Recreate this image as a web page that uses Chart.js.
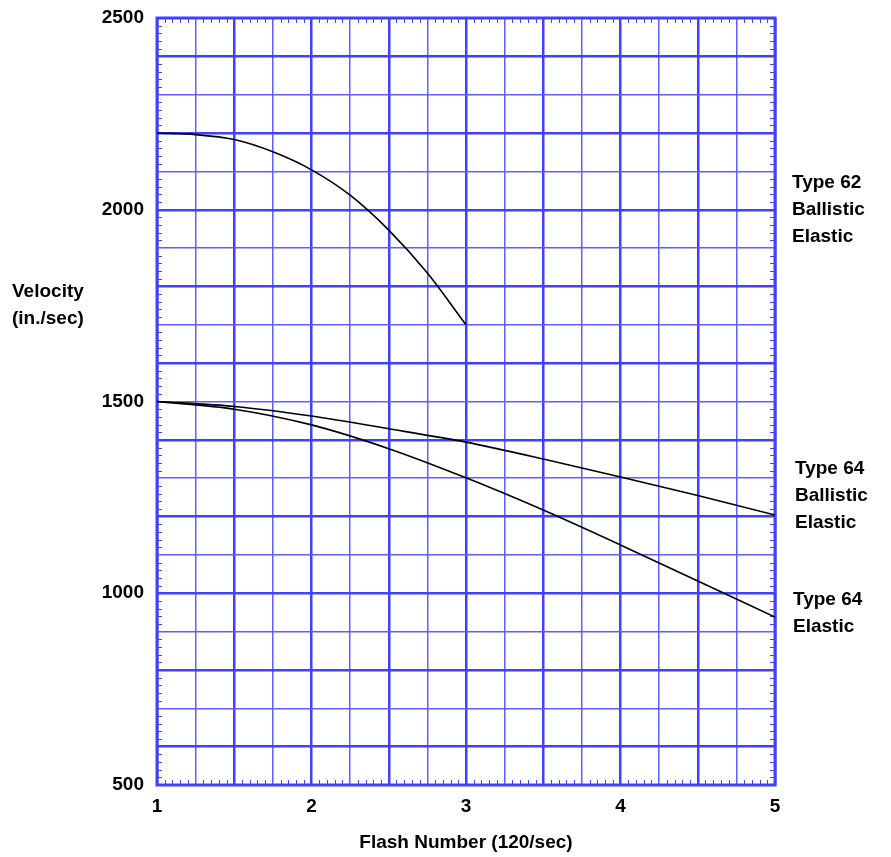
<!DOCTYPE html>
<html>
<head>
<meta charset="utf-8">
<script src="https://cdn.jsdelivr.net/npm/chart.js@4"></script>
<style>
  html, body { margin: 0; padding: 0; background: #fff; }
  canvas { display: block; }
</style>
</head>
<body>
<canvas id="chart" width="891" height="857"></canvas>
<script>
// flash number positions for each curve
var flash62 = [1, 1.25, 1.5, 1.75, 2, 2.25, 2.5, 2.75, 3];
var flash64 = [1, 1.5, 2, 2.5, 3, 3.5, 4, 4.5, 5];

// velocities (in./sec)
var type62Ballistic = [2200, 2196, 2183, 2151, 2104, 2038, 1947, 1835, 1700];
var type64Ballistic = [1500, 1487, 1462, 1429, 1394, 1350, 1303, 1255, 1204];
var type64Elastic   = [1500, 1480, 1439, 1377, 1301, 1217, 1126, 1032, 938];

// right side labels and the velocity they sit beside
var curveLabels = [["Type 62", "Ballistic", "Elastic"], ["Type 64", "Ballistic", "Elastic"], ["Type 64", "Elastic"]];
var labelValues = [2000, 1255, 948];
var labelX = [792, 795, 793];

var xTickLabels = [1, 2, 3, 4, 5];
var yTickLabels = [500, 1000, 1500, 2000, 2500];

var BLUE = "rgb(64,64,255)";
var FONT = "bold 19px 'Liberation Sans', Arial, sans-serif";

function toPoints(xs, ys) {
  var pts = [];
  for (var i = 0; i < xs.length; i++) pts.push({x: xs[i], y: ys[i]});
  return pts;
}

function lineSet(label, pts) {
  return {
    label: label,
    data: pts,
    showLine: true,
    borderColor: "#000",
    borderWidth: 1.6,
    pointRadius: 0,
    tension: 0.3,
    fill: false
  };
}

// frame, small edge ticks and the free text
var decor = {
  id: "decor",
  beforeDatasetsDraw: function(chart) {
    var ctx = chart.ctx, a = chart.chartArea;
    var xs = chart.scales.x, ys = chart.scales.y;
    ctx.save();
    ctx.strokeStyle = BLUE;
    ctx.lineWidth = 1;
    ctx.beginPath();
    for (var v = 500; v <= 2500; v += 20) {
      if (v % 100 === 0) continue;
      var py = Math.round(ys.getPixelForValue(v)) + 0.5;
      ctx.moveTo(a.left, py); ctx.lineTo(a.left + 5, py);
      ctx.moveTo(a.right, py); ctx.lineTo(a.right - 5, py);
    }
    for (var k = 0; k <= 80; k++) {
      if (k % 5 === 0) continue;
      var px = Math.round(xs.getPixelForValue(1 + k * 0.05)) + 0.5;
      ctx.moveTo(px, a.top); ctx.lineTo(px, a.top + 5);
      ctx.moveTo(px, a.bottom); ctx.lineTo(px, a.bottom - 5);
    }
    ctx.stroke();
    ctx.lineWidth = 3;
    ctx.strokeRect(a.left, a.top, a.right - a.left, a.bottom - a.top);
    ctx.restore();
  },
  afterDraw: function(chart) {
    var ctx = chart.ctx, a = chart.chartArea;
    var ys = chart.scales.y;
    ctx.save();
    ctx.fillStyle = "#000";
    ctx.font = FONT;
    ctx.textBaseline = "middle";
    ctx.textAlign = "left";
    ctx.fillText("Velocity", 12, 292);
    ctx.fillText("(in./sec)", 12, 319);
    for (var i = 0; i < curveLabels.length; i++) {
      var lines = curveLabels[i];
      var cy = ys.getPixelForValue(labelValues[i]);
      for (var j = 0; j < lines.length; j++) {
        ctx.fillText(lines[j], labelX[i], cy + (j - (lines.length - 1) / 2) * 27);
      }
    }
    ctx.textAlign = "center";
    ctx.fillText("Flash Number (120/sec)", (a.left + a.right) / 2, 843);
    ctx.restore();
  }
};

var ctx = document.getElementById("chart").getContext("2d");
var chart = new Chart(ctx, {
  type: "scatter",
  data: {
    datasets: [
      lineSet("Type 62 Ballistic Elastic", toPoints(flash62, type62Ballistic)),
      lineSet("Type 64 Ballistic Elastic", toPoints(flash64, type64Ballistic)),
      lineSet("Type 64 Elastic", toPoints(flash64, type64Elastic))
    ]
  },
  options: {
    responsive: false,
    animation: false,
    layout: { padding: { left: 0, top: 18, right: 116, bottom: 0 } },
    plugins: { legend: { display: false }, tooltip: { enabled: false } },
    scales: {
      x: {
        type: "linear",
        min: 1, max: 5,
        afterFit: function(s) { s.height = 72; s.paddingLeft = 0; s.paddingRight = 0; },
        afterBuildTicks: function(s) {
          var t = [];
          for (var k = 0; k <= 16; k++) t.push({value: 1 + k * 0.25});
          s.ticks = t;
        },
        border: { display: false },
        grid: {
          drawTicks: false,
          color: function(c) { return c.tick && c.tick.value % 0.5 === 0 ? BLUE : "rgb(95,95,255)"; },
          lineWidth: function(c) { return c.tick && c.tick.value % 0.5 === 0 ? 2.5 : 1.5; }
        },
        ticks: {
          autoSkip: false,
          maxRotation: 0,
          padding: 10,
          color: "#000",
          font: { family: "'Liberation Sans', Arial, sans-serif", size: 19, weight: "bold" },
          callback: function(v) { return xTickLabels.indexOf(v) >= 0 ? String(v) : ""; }
        }
      },
      y: {
        type: "linear",
        min: 500, max: 2500,
        afterFit: function(s) { s.width = 157; s.paddingTop = 0; s.paddingBottom = 0; },
        afterBuildTicks: function(s) {
          var t = [];
          for (var v = 500; v <= 2500; v += 100) t.push({value: v});
          s.ticks = t;
        },
        border: { display: false },
        grid: {
          drawTicks: false,
          color: function(c) { return c.tick && c.tick.value % 200 === 0 ? BLUE : "rgb(95,95,255)"; },
          lineWidth: function(c) { return c.tick && c.tick.value % 200 === 0 ? 2.5 : 1.5; }
        },
        ticks: {
          autoSkip: false,
          padding: 13,
          color: "#000",
          font: { family: "'Liberation Sans', Arial, sans-serif", size: 19, weight: "bold" },
          callback: function(v) { return yTickLabels.indexOf(v) >= 0 ? String(v) : ""; }
        }
      }
    }
  },
  plugins: [decor]
});
</script>
</body>
</html>
